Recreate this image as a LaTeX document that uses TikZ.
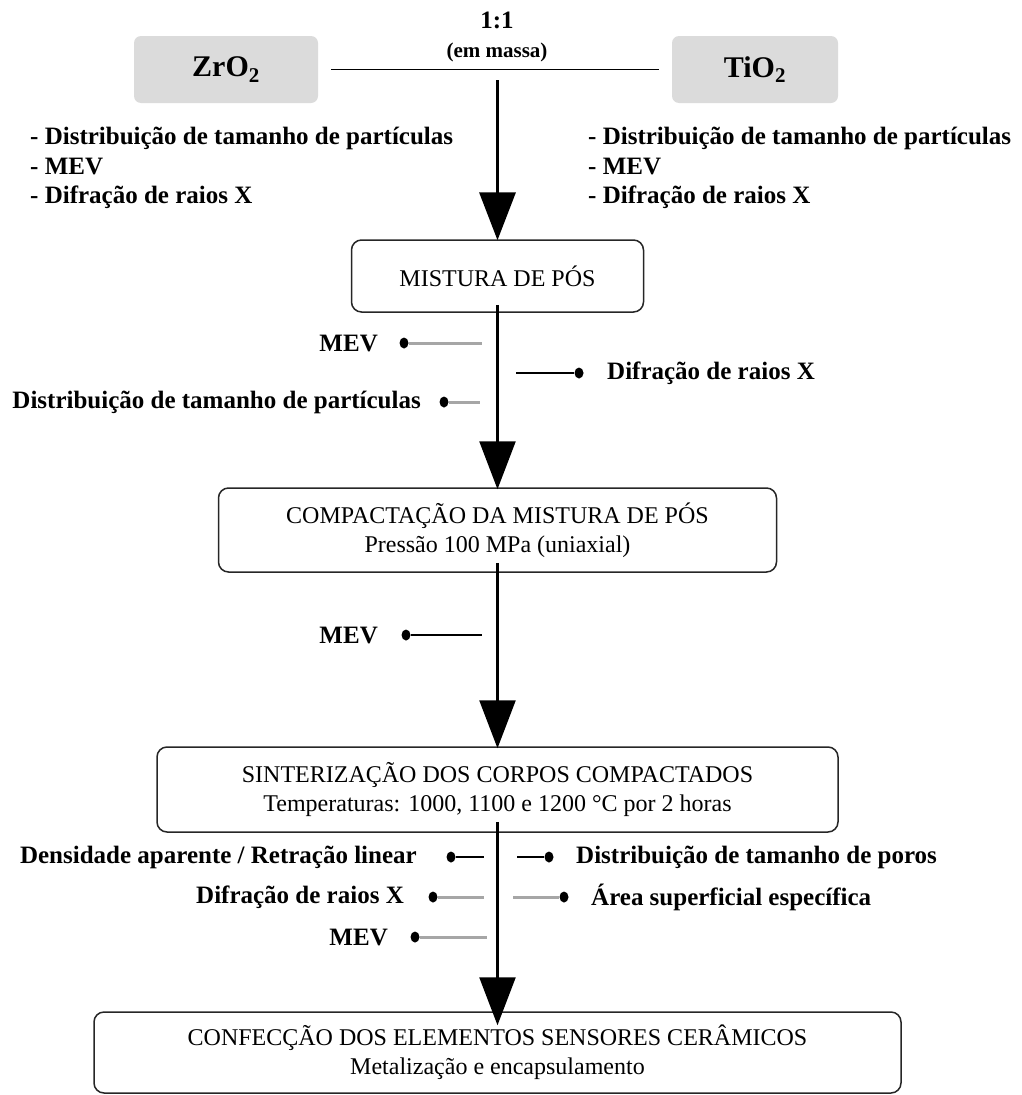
\documentclass[tikz,border=0pt]{standalone}
\usepackage{fontspec}
\setmainfont{Liberation Serif}
\usetikzlibrary{arrows.meta,shapes.geometric}
\begin{document}
\begin{tikzpicture}[x=1pt,y=-1pt,
 lab/.style={font=\fontsize{25}{30}\selectfont\bfseries, inner sep=0pt},
 stage/.style={draw=black!85, line width=1.5pt, rounded corners=10pt, align=center, font=\fontsize{24}{29}\selectfont, inner sep=0pt},
 oxide/.style={fill=black!14, rounded corners=7pt, minimum width=184pt, minimum height=67pt, font=\fontsize{30}{36}\selectfont\bfseries, inner sep=0pt},
 flow/.style={line width=2.5pt, -{Triangle[width=36pt,length=48pt]}},
 dotn/.style={ellipse, fill=black, minimum width=9pt, minimum height=11pt, inner sep=0pt},
 stubk/.style={line width=1.5pt, black},
 stubg/.style={line width=3pt, black!35},
]
\useasboundingbox (0,0) rectangle (1021,1095);

% oxides
\node[oxide] (zr) at (226,69.5) {ZrO\textsubscript{2}};
\node[oxide, minimum width=166pt] (ti) at (755,69.5) {TiO\textsubscript{2}};
\draw[line width=1.5pt] ([xshift=13pt]zr.east) -- coordinate (mid) ([xshift=-13pt]ti.west);
\node[font=\fontsize{25}{30}\selectfont\bfseries, inner sep=0pt] (ratio) at (497,20) {1:1};
\node[font=\fontsize{21}{25}\selectfont\bfseries, inner sep=0pt] (mass) at (497,52) {(em massa)};
\coordinate (split) at (497.5,80);

% top lists
\node[lab, anchor=west, align=left, font=\fontsize{25}{29.5}\selectfont\bfseries] (lzr) at (30,168)
 {- Distribuição de tamanho de partículas\\- MEV\\- Difração de raios X};
\node[lab, anchor=west, align=left, font=\fontsize{25}{29.5}\selectfont\bfseries] (lti) at (588,168)
 {- Distribuição de tamanho de partículas\\- MEV\\- Difração de raios X};

% stages
\node[stage, minimum width=292pt, minimum height=72pt] (mist) at (497.5,276) {MISTURA DE PÓS};
\node[stage, minimum width=558pt, minimum height=84pt] (comp) at (497.5,530) {COMPACTAÇÃO DA MISTURA DE PÓS\\Pressão 100 MPa (uniaxial)};
\node[stage, minimum width=681pt, minimum height=85pt] (sint) at (497.5,789.5) {SINTERIZAÇÃO DOS CORPOS COMPACTADOS\\Temperaturas: 1000, 1100 e 1200 °C por 2 horas};
\node[stage, minimum width=807pt, minimum height=81pt] (conf) at (497.5,1052.5) {CONFECÇÃO DOS ELEMENTOS SENSORES CERÂMICOS\\Metalização e encapsulamento};

% flow arrows
\draw[flow, line width=3.5pt] (split) -- ([yshift=-1pt]mist.north);
\draw[flow] ([yshift=8pt]mist.south) -- ([yshift=-2pt]comp.north);
\draw[flow] ([yshift=10pt]comp.south) -- ([yshift=-2pt]sint.north);
\draw[flow] ([yshift=11pt]sint.south) -- ([yshift=-14pt]conf.north);

% after mixing
\node[dotn] (d1) at (404,343) {};
\node[lab, anchor=east] (t1) at (378,343) {MEV};
\draw[stubg] (d1) -- (482,343);
\node[dotn] (d2) at (579,373) {};
\node[lab, anchor=west] (t2) at (607,373) {Difração de raios X};
\draw[stubk] (516,373) -- (d2);
\node[dotn] (d3) at (444,402) {};
\node[lab, anchor=east] (t3) at (421,402) {Distribuição de tamanho de partículas};
\draw[stubg] (d3) -- (480,402);

% after compaction
\node[dotn] (d4) at (406,635) {};
\node[lab, anchor=east] (t4) at (378,635) {MEV};
\draw[stubk] (d4) -- (482,635);

% after sintering
\node[dotn] (d5) at (451,857) {};
\node[lab, anchor=east] (t5) at (417,857) {Densidade aparente / Retração linear};
\draw[stubk] (d5) -- (484,857);
\node[dotn] (d6) at (549,857) {};
\node[lab, anchor=west] (t6) at (576,857) {Distribuição de tamanho de poros};
\draw[stubk] (517,857) -- (d6);
\node[dotn] (d7) at (433,897) {};
\node[lab, anchor=east] (t7) at (404,897) {Difração de raios X};
\draw[stubg] (d7) -- (484,897);
\node[dotn] (d8) at (564,897) {};
\node[lab, anchor=west] (t8) at (591,897) {Área superficial específica};
\draw[stubg] (513,897) -- (d8);
\node[dotn] (d9) at (415,937) {};
\node[lab, anchor=east] (t9) at (388,937) {MEV};
\draw[stubg] (d9) -- (487,937);
\end{tikzpicture}
\end{document}
